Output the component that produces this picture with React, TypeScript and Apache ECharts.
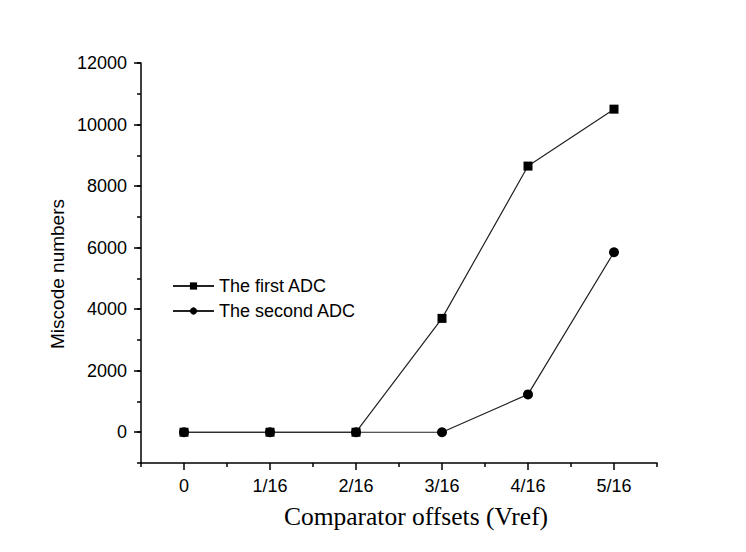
import React, { useEffect, useRef } from "react";
import * as echarts from "echarts";

const categories = ["0", "1/16", "2/16", "3/16", "4/16", "5/16"];
const firstAdc = [0, 0, 0, 3700, 8650, 10500];
const secondAdc = [0, 0, 0, 0, 1230, 5850];
const majorYTicks = [0, 2000, 4000, 6000, 8000, 10000, 12000];
const yTitle = "Miscode numbers";
const xTitle = "Comparator offsets (Vref)";

const ink = "#000";
const sans = "Liberation Sans, Arial, sans-serif";
const serif = "Liberation Serif, Times New Roman, serif";

export default function App() {
  const ref = useRef<HTMLDivElement>(null);

  useEffect(() => {
    const chart = echarts.init(ref.current!, null, { renderer: "svg" });
    const yScale = {
      type: "value" as const,
      min: -1000,
      max: 12000,
      interval: 1000,
      position: "left" as const,
      splitLine: { show: false },
    };
    const tickLine = { color: ink, width: 1.5 };
    chart.setOption({
      animation: false,
      backgroundColor: "#fff",
      grid: { left: 141, top: 63, right: 89, bottom: 89, containLabel: false },
      legend: {
        orient: "vertical",
        left: 167,
        top: 272,
        itemWidth: 41,
        itemHeight: 9,
        itemGap: 7,
        textStyle: { fontFamily: sans, fontSize: 18, color: ink },
        data: ["The first ADC", "The second ADC"],
      },
      graphic: [
        {
          type: "text",
          x: 57,
          y: 274,
          rotation: Math.PI / 2,
          style: {
            text: yTitle,
            fontFamily: sans,
            fontSize: 19,
            fill: ink,
            align: "center",
            verticalAlign: "middle",
          },
        },
      ],
      xAxis: [
        {
          type: "category",
          data: categories,
          boundaryGap: true,
          axisLine: { show: true, onZero: false, lineStyle: tickLine },
          axisTick: { show: true, alignWithLabel: true, length: 7, lineStyle: tickLine },
          axisLabel: { fontFamily: sans, fontSize: 18, color: ink, margin: 14 },
          name: xTitle,
          nameLocation: "middle",
          nameGap: 40,
          nameTextStyle: { fontFamily: serif, fontSize: 25.5, color: ink, padding: [0, 0, 0, 34] },
        },
        {
          type: "category",
          data: categories,
          boundaryGap: true,
          position: "bottom",
          axisLine: { show: false, onZero: false },
          axisTick: { show: true, alignWithLabel: false, length: 4, lineStyle: tickLine },
          axisLabel: { show: false },
        },
      ],
      yAxis: [
        {
          ...yScale,
          axisLine: { show: true, lineStyle: tickLine },
          axisTick: { show: true, length: 4, lineStyle: tickLine },
          axisLabel: {
            fontFamily: sans,
            fontSize: 18,
            color: ink,
            margin: 14,
            formatter: (v: number) => (v >= 0 && v % 2000 === 0 ? String(v) : ""),
          },
        },
        {
          ...yScale,
          axisLine: { show: false },
          axisTick: { show: true, length: 7, customValues: majorYTicks, lineStyle: tickLine },
          axisLabel: { show: false },
        },
      ],
      series: [
        {
          name: "The first ADC",
          type: "line",
          data: firstAdc,
          symbol: "rect",
          symbolSize: 9,
          lineStyle: { color: "#222", width: 1.2 },
          itemStyle: { color: ink },
        },
        {
          name: "The second ADC",
          type: "line",
          data: secondAdc,
          symbol: "circle",
          symbolSize: 10,
          lineStyle: { color: "#222", width: 1.2 },
          itemStyle: { color: ink },
        },
      ],
    });
    return () => chart.dispose();
  }, []);

  return <div ref={ref} style={{ width: 746, height: 552, position: "absolute", left: 0, top: 0 }} />;
}
